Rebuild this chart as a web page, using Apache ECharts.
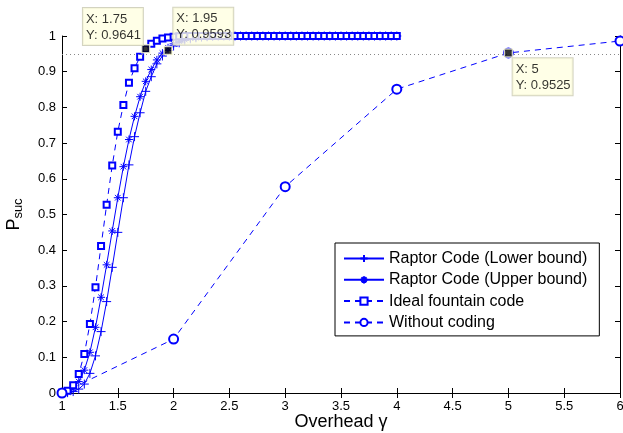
<!DOCTYPE html>
<html>
<head>
<meta charset="utf-8">
<title></title>
<script src="https://cdn.jsdelivr.net/npm/echarts@6/dist/echarts.min.js"></script>
<style>
  html, body { margin: 0; padding: 0; background: #fff; }
  #main { width: 623px; height: 433px; }
</style>
</head>
<body>
<div id="main"></div>
<script type="text/javascript">
// overhead values (x) for the three coded curves
var gammaX = [1.00, 1.05, 1.10, 1.15, 1.20, 1.25, 1.30, 1.35, 1.40, 1.45,
  1.50, 1.55, 1.60, 1.65, 1.70, 1.75, 1.80, 1.85, 1.90, 1.95,
  2.00, 2.05, 2.10, 2.15, 2.20, 2.25, 2.30, 2.35, 2.40, 2.45,
  2.50, 2.55, 2.60, 2.65, 2.70, 2.75, 2.80, 2.85, 2.90, 2.95,
  3.00, 3.05, 3.10, 3.15, 3.20, 3.25, 3.30, 3.35, 3.40, 3.45,
  3.50, 3.55, 3.60, 3.65, 3.70, 3.75, 3.80, 3.85, 3.90, 3.95, 4.00];

var raptorLower = [0.000, 0.001, 0.004, 0.011, 0.025, 0.055, 0.104, 0.172, 0.256, 0.352,
  0.450, 0.547, 0.639, 0.718, 0.785, 0.845, 0.886, 0.922, 0.944, 0.9593,
  0.972, 0.981, 0.988, 0.992, 0.995, 0.997, 0.998, 0.999, 1, 1,
  1, 1, 1, 1, 1, 1, 1, 1, 1, 1,
  1, 1, 1, 1, 1, 1, 1, 1, 1, 1,
  1, 1, 1, 1, 1, 1, 1, 1, 1, 1, 1];

var raptorUpper = [0.000, 0.003, 0.012, 0.032, 0.064, 0.114, 0.184, 0.268, 0.359, 0.454,
  0.547, 0.634, 0.710, 0.775, 0.830, 0.873, 0.906, 0.933, 0.952, 0.967,
  0.978, 0.985, 0.990, 0.994, 0.996, 0.998, 0.999, 1, 1, 1,
  1, 1, 1, 1, 1, 1, 1, 1, 1, 1,
  1, 1, 1, 1, 1, 1, 1, 1, 1, 1,
  1, 1, 1, 1, 1, 1, 1, 1, 1, 1, 1];

var idealFountain = [0.001, 0.006, 0.022, 0.053, 0.109, 0.193, 0.296, 0.412, 0.527, 0.637,
  0.732, 0.807, 0.869, 0.910, 0.942, 0.9641, 0.978, 0.987, 0.993, 0.996,
  0.998, 0.999, 1, 1, 1, 1, 1, 1, 1, 1,
  1, 1, 1, 1, 1, 1, 1, 1, 1, 1,
  1, 1, 1, 1, 1, 1, 1, 1, 1, 1,
  1, 1, 1, 1, 1, 1, 1, 1, 1, 1, 1];

// without coding
var plainX = [1, 2, 3, 4, 5, 6];
var plainY = [0, 0.151, 0.578, 0.851, 0.9525, 0.986];

// data tips
var tipX = [1.75, 1.95, 5];
var tipY = [0.9641, 0.9593, 0.9525];

var threshold = 0.95;

var xTicks = [1, 1.5, 2, 2.5, 3, 3.5, 4, 4.5, 5, 5.5, 6];
var yTicks = [0, 0.1, 0.2, 0.3, 0.4, 0.5, 0.6, 0.7, 0.8, 0.9, 1];

var seriesNames = ['Raptor Code (Lower bound)', 'Raptor Code (Upper bound)', 'Ideal fountain code', 'Without coding'];

function pairs(xs, ys) {
  var out = [];
  for (var i = 0; i < xs.length; i++) out.push([xs[i], ys[i]]);
  return out;
}

var blue = '#0000ff';
var font = 'Liberation Sans, Arial, Helvetica, sans-serif';
var plusPath = 'path://M5,0 L5,10 M0,5 L10,5';
var starPath = 'path://M5,0 L5,10 M0,5 L10,5 M1.5,1.5 L8.5,8.5 M8.5,1.5 L1.5,8.5';

// label offsets for each data tip box
var tipPos = [[-58, -36], [10, -38], [9, 10]];
var tipData = [];
for (var i = 0; i < tipX.length; i++) {
  tipData.push({
    value: [tipX[i], tipY[i]],
    label: { position: tipPos[i] }
  });
}

var chart = echarts.init(document.getElementById('main'), null, { renderer: 'canvas' });

var option = {
  animation: false,
  textStyle: { fontFamily: font },
  grid: { left: 62, right: 3, top: 36, bottom: 40, containLabel: false, outerBoundsMode: 'none' },
  legend: {
    data: seriesNames,
    orient: 'vertical',
    left: 335,
    top: 243,
    backgroundColor: '#fff',
    borderColor: '#000',
    borderWidth: 1,
    padding: [7, 12, 5, 8],
    itemWidth: 40,
    itemHeight: 9,
    itemGap: 4.3,
    textStyle: { fontSize: 16, color: '#000', fontFamily: font, lineHeight: 17 }
  },
  xAxis: [{
    type: 'value', min: 1, max: 6, interval: 0.5,
    name: 'Overhead γ', nameLocation: 'middle', nameGap: 20, nameMoveOverlap: false,
    nameTextStyle: { fontSize: 18, color: '#000' },
    axisLine: { lineStyle: { color: '#000', width: 1 } },
    axisTick: { inside: true, length: 5, lineStyle: { color: '#000' } },
    axisLabel: { fontSize: 13, color: '#000', margin: 7,
      formatter: function (v) { return xTicks.indexOf(v) >= 0 ? String(v) : ''; } },
    splitLine: { show: false }
  }, {
    type: 'value', min: 1, max: 6, interval: 0.5, position: 'top',
    axisLine: { lineStyle: { color: '#000', width: 1 } },
    axisTick: { inside: true, length: 5, lineStyle: { color: '#000' } },
    axisLabel: { show: false }, splitLine: { show: false }
  }],
  yAxis: [{
    type: 'value', min: 0, max: 1, interval: 0.1,
    name: '{p|P}{s|suc}', nameLocation: 'middle', nameGap: 37, nameRotate: 90,
    nameTextStyle: {
      color: '#000',
      rich: {
        p: { fontSize: 18, color: '#000', fontFamily: font },
        s: { fontSize: 13, color: '#000', fontFamily: font, padding: [9, 0, 0, 0] }
      }
    },
    axisLine: { lineStyle: { color: '#000', width: 1 } },
    axisTick: { inside: true, length: 5, lineStyle: { color: '#000' } },
    axisLabel: { fontSize: 13, color: '#000', margin: 6,
      formatter: function (v) { return String(Math.round(v * 10) / 10); } },
    splitLine: { show: false }
  }, {
    type: 'value', min: 0, max: 1, interval: 0.1, position: 'right',
    axisLine: { lineStyle: { color: '#000', width: 1 } },
    axisTick: { inside: true, length: 5, lineStyle: { color: '#000' } },
    axisLabel: { show: false }, splitLine: { show: false }
  }],
  series: [{
    name: seriesNames[0], type: 'line',
    data: pairs(gammaX, raptorLower),
    symbol: plusPath, symbolSize: 9,
    itemStyle: { color: blue, borderColor: blue, borderWidth: 1 },
    lineStyle: { color: blue, width: 1, type: 'solid' }
  }, {
    name: seriesNames[1], type: 'line',
    data: pairs(gammaX, raptorUpper),
    symbol: starPath, symbolSize: 8,
    itemStyle: { color: blue, borderColor: blue, borderWidth: 1 },
    lineStyle: { color: blue, width: 1, type: 'solid' }
  }, {
    name: seriesNames[2], type: 'line',
    data: pairs(gammaX, idealFountain),
    symbol: 'emptyRect', symbolSize: 6,
    itemStyle: { color: blue, borderColor: blue, borderWidth: 0.8 },
    lineStyle: { color: blue, width: 1, type: [6, 5] }
  }, {
    name: seriesNames[3], type: 'line',
    data: pairs(plainX, plainY),
    symbol: 'emptyCircle', symbolSize: 9,
    itemStyle: { color: blue, borderColor: blue, borderWidth: 0.8 },
    lineStyle: { color: blue, width: 1, type: [6, 5] },
    markLine: {
      silent: true, symbol: 'none',
      label: { show: false },
      lineStyle: { color: '#888', width: 1, type: [1, 3] },
      data: [{ yAxis: threshold }]
    }
  }, {
    name: 'tips', type: 'scatter',
    data: tipData,
    symbol: 'rect', symbolSize: 8, z: 10,
    itemStyle: { color: '#000', borderColor: '#ffffd8', borderWidth: 1.5 },
    label: {
      show: true,
      formatter: function (p) { return 'X: ' + p.value[0] + '\nY: ' + p.value[1]; },
      color: '#000', fontSize: 13, lineHeight: 16, fontFamily: font,
      backgroundColor: '#ffffe1', borderColor: '#c8c8b0', borderWidth: 1,
      padding: [3, 2, 2, 3], align: 'left', verticalAlign: 'top'
    }
  }]
};

chart.setOption(option);
</script>
</body>
</html>
